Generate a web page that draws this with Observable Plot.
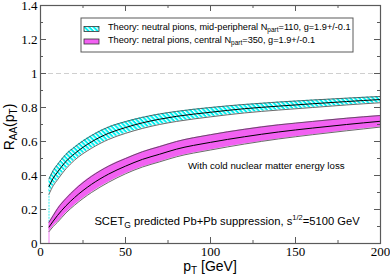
<!DOCTYPE html>
<html><head><meta charset="utf-8">
<script src="https://cdn.jsdelivr.net/npm/d3@7"></script>
<script src="https://cdn.jsdelivr.net/npm/@observablehq/plot@0.6"></script>
<style>
body{margin:0;background:#fff} svg{display:block}
</style>
</head><body><div id="chart"></div>
<script>
// transverse momentum grid (GeV)
const pT = [5,7.5,10,15,20,30,40,50,60,70,80,100,120,140,160,180,200];
// neutral pions, mid-peripheral N_part=110
const midLow    = [0.29,0.34,0.375,0.44,0.49,0.56,0.612,0.648,0.677,0.70,0.718,0.745,0.768,0.785,0.80,0.815,0.828];
const midCenter = [0.335,0.385,0.42,0.483,0.528,0.598,0.648,0.682,0.71,0.731,0.748,0.772,0.793,0.808,0.822,0.835,0.847];
const midHigh   = [0.38,0.43,0.465,0.525,0.567,0.635,0.685,0.717,0.742,0.762,0.777,0.80,0.818,0.832,0.844,0.855,0.865];
// neutral pions, central N_part=350
const cenLow    = [0.07,0.10,0.125,0.18,0.225,0.30,0.36,0.41,0.45,0.48,0.51,0.55,0.585,0.615,0.64,0.663,0.685];
const cenCenter = [0.097,0.132,0.165,0.222,0.27,0.348,0.408,0.455,0.495,0.525,0.555,0.595,0.628,0.656,0.679,0.70,0.719];
const cenHigh   = [0.125,0.165,0.205,0.265,0.315,0.395,0.455,0.50,0.54,0.57,0.60,0.64,0.672,0.698,0.718,0.737,0.753];

const xTicks = [0,50,100,150,200];
const xMinor = [25,75,125,175];
const yTicks = [0,0.2,0.4,0.6,0.8,1,1.2,1.4];
const yMinor = [0.1,0.3,0.5,0.7,0.9,1.1,1.3];
const xTickLabels = ["0","50","100","150","200"];
const yTickLabels = ["0","0.2","0.4","0.6","0.8","1","1.2","1.4"];
const refLine = [1];

const legendMid = ["Theory: neutral pions, mid-peripheral N", "part", "=110, g=1.9+/-0.1"];
const legendCen = ["Theory: netral pions, central N", "part", "=350, g=1.9+/-0.1"];
const noteCNM = "With cold nuclear matter energy loss";
const noteSCET = ["SCET", "G", " predicted Pb+Pb suppression, s", "1/2", "=5100 GeV"];

const mid = pT.map((p,i)=>({pT:p, lo:midLow[i], c:midCenter[i], hi:midHigh[i]}));
const cen = pT.map((p,i)=>({pT:p, lo:cenLow[i], c:cenCenter[i], hi:cenHigh[i]}));

const curve = "monotone-x";
const MAG = "#f261f2";
const FR = "#5a5a5a";
const serif = "'Liberation Serif', 'DejaVu Serif', serif";
const sans = "'Liberation Sans', Arial, Helvetica, sans-serif";

const plot = Plot.plot({
  width: 390, height: 277,
  marginLeft: 40, marginRight: 10, marginTop: 5, marginBottom: 34,
  x: {domain: [0,200], axis: null},
  y: {domain: [0,1.4], axis: null},
  style: {background: "white"},
  marks: [
    Plot.ruleY(refLine, {y: d=>d, stroke: "#cfcfcf", strokeDasharray: "5,3"}),
    Plot.ruleX([mid[0]], {x: "pT", y1: cen[0].hi, y2: "lo", stroke: "#00e8e8", strokeWidth: 0.8, strokeDasharray: "2,1"}),
    Plot.ruleX([cen[0]], {x: "pT", y1: 0, y2: "lo", stroke: MAG, strokeWidth: 0.8}),
    Plot.areaY(mid, {x: "pT", y1: "lo", y2: "hi", fill: "url(#hatch)", curve}),
    Plot.areaY(cen, {x: "pT", y1: "lo", y2: "hi", fill: MAG, curve}),
    Plot.line(mid, {x: "pT", y: "lo", stroke: "#444", strokeWidth: 0.8, curve}),
    Plot.line(mid, {x: "pT", y: "hi", stroke: "#444", strokeWidth: 0.8, curve}),
    Plot.line(mid, {x: "pT", y: "c", stroke: "#000", strokeWidth: 1, curve}),
    Plot.line(cen, {x: "pT", y: "lo", stroke: "#444", strokeWidth: 0.8, curve}),
    Plot.line(cen, {x: "pT", y: "hi", stroke: "#444", strokeWidth: 0.8, curve}),
    Plot.line(cen, {x: "pT", y: "c", stroke: "#000", strokeWidth: 1, curve}),
    Plot.ruleX(xTicks, {x: d=>d, y1: 0, y2: 0, insetTop: -6, stroke: FR}),
    Plot.ruleX(xMinor, {x: d=>d, y1: 0, y2: 0, insetTop: -3, stroke: FR}),
    Plot.ruleX(xTicks, {x: d=>d, y1: 1.4, y2: 1.4, insetBottom: -6, stroke: FR}),
    Plot.ruleX(xMinor, {x: d=>d, y1: 1.4, y2: 1.4, insetBottom: -3, stroke: FR}),
    Plot.ruleY(yTicks, {y: d=>d, x1: 0, x2: 0, insetRight: -6, stroke: FR}),
    Plot.ruleY(yMinor, {y: d=>d, x1: 0, x2: 0, insetRight: -3, stroke: FR}),
    Plot.ruleY(yTicks, {y: d=>d, x1: 200, x2: 200, insetLeft: -6, stroke: FR}),
    Plot.ruleY(yMinor, {y: d=>d, x1: 200, x2: 200, insetLeft: -3, stroke: FR}),
    Plot.frame({stroke: FR, strokeWidth: 1.2}),
    Plot.text(xTicks, {x: d=>d, y: 0, text: (d,i)=>xTickLabels[i], lineAnchor: "top", dy: 3,
      fontSize: 13, fill: "#000", className: "ticklab"}),
    Plot.text(yTicks, {x: 0, y: d=>d, text: (d,i)=>yTickLabels[i], textAnchor: "end", lineAnchor: "middle", dx: -3,
      fontSize: 13, fill: "#000", className: "ticklab"})
  ]
});
document.getElementById("chart").appendChild(plot);

const svg = d3.select(plot);
// force serif tick labels
svg.selectAll('g[aria-label="text"] text').each(function(){
  this.style.setProperty("font-family", serif, "important");
  this.style.setProperty("font-size", "13px", "important");
});

const defs = svg.insert("defs", ":first-child");
const pat = defs.append("pattern").attr("id","hatch").attr("patternUnits","userSpaceOnUse")
  .attr("width",3.2).attr("height",3.2).attr("patternTransform","rotate(-45)");
pat.append("rect").attr("width",3.2).attr("height",3.2).attr("fill","#00f0f0");
pat.append("rect").attr("width",1.3).attr("height",3.2).attr("fill","#ffffff");

const sx = plot.scale("x"), sy = plot.scale("y");

function txt(sel, size, anchor){
  return sel.append("text").style("font-family",sans).style("font-size",size+"px")
    .attr("fill","#000").attr("text-anchor",anchor||"start");
}

// axis titles
const yl = txt(svg,14,"middle").attr("transform","translate(14,127) rotate(-90)");
yl.append("tspan").text("R");
yl.append("tspan").style("font-size","10px").attr("dy",3).text("AA");
yl.append("tspan").attr("dy",-3).text("(p");
yl.append("tspan").style("font-size","10px").attr("dy",3).text("T");
yl.append("tspan").attr("dy",-3).text(")");

const xl = txt(svg,14,"middle").attr("x", sx.apply(100)).attr("y", 271);
xl.append("tspan").text("p");
xl.append("tspan").style("font-size","10px").attr("dy",3).text("T");
xl.append("tspan").attr("dy",-3).text(" [GeV]");

// legend
const lg = svg.append("g");
lg.append("rect").attr("x",81).attr("y",18).attr("width",272).attr("height",34)
  .attr("fill","#fff").attr("stroke",FR).attr("stroke-width",1);
lg.append("rect").attr("x",84).attr("y",26.5).attr("width",15).attr("height",5)
  .attr("fill","url(#hatch)").attr("stroke","#333").attr("stroke-width",0.8);
lg.append("rect").attr("x",84).attr("y",39).attr("width",15).attr("height",5)
  .attr("fill",MAG).attr("stroke","#333").attr("stroke-width",0.8);
function legText(y, parts){
  const t = txt(lg,9.2).attr("x",108).attr("y",y);
  t.append("tspan").text(parts[0]);
  t.append("tspan").style("font-size","6.5px").attr("dy",2).text(parts[1]);
  t.append("tspan").attr("dy",-2).text(parts[2]);
}
legText(30, legendMid);
legText(42.5, legendCen);

// annotations
txt(svg,9.7).attr("x", sx.apply(87)).attr("y", sy.apply(0.435)).text(noteCNM);
const sc = txt(svg,11.2).attr("x", sx.apply(32)).attr("y", sy.apply(0.106));
sc.append("tspan").text(noteSCET[0]);
sc.append("tspan").style("font-size","8.5px").attr("dy",3).text(noteSCET[1]);
sc.append("tspan").attr("dy",-3).text(noteSCET[2]);
sc.append("tspan").style("font-size","7.5px").attr("dy",-5).text(noteSCET[3]);
sc.append("tspan").attr("dy",5).text(noteSCET[4]);
</script>
</body></html>
